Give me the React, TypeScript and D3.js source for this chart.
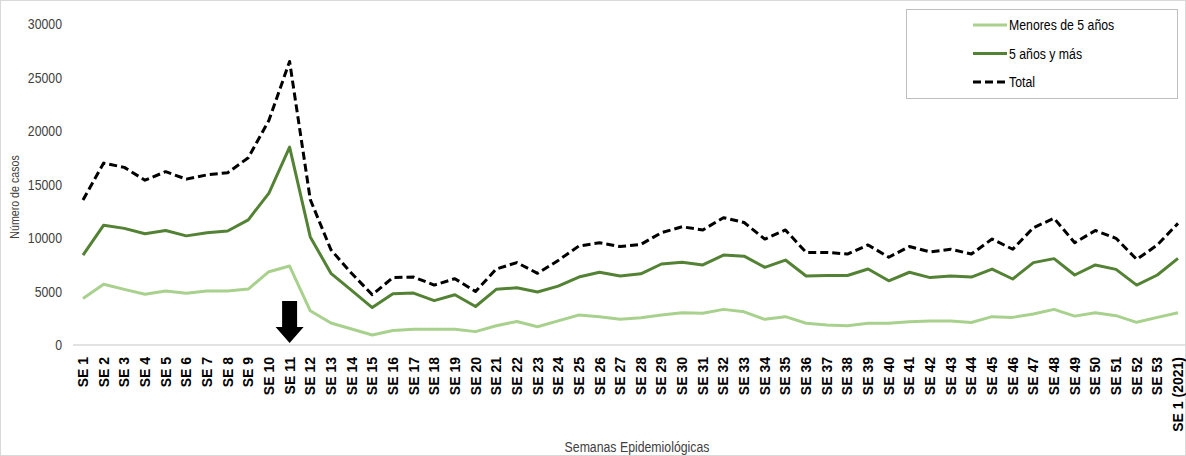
import * as d3 from 'd3';
import { useEffect } from 'react';

// week labels, SE 1 .. SE 53 plus first week of 2021
const weeks: string[] = [...d3.range(1, 54).map((n) => `SE ${n}`), 'SE 1 (2021)'];

// cases, children under 5
const menores: number[] = [
  4350, 5670, 5200, 4750, 5050, 4830, 5050, 5050, 5230, 6850, 7380, 3200, 2050, 1500, 930,
  1350, 1480, 1480, 1480, 1250, 1800, 2200, 1700, 2250, 2800, 2650, 2400, 2550, 2800, 3020,
  2960, 3330, 3100, 2400, 2650, 2030, 1870, 1800, 2030, 2030, 2180, 2240, 2240, 2100, 2650,
  2580, 2900, 3330, 2700, 3020, 2740, 2120, 2580, 3020,
];

// cases, 5 years and older
const mayores: number[] = [
  8400, 11200, 10900, 10400, 10700, 10200, 10500, 10650, 11700, 14200, 18500, 10100, 6700,
  5100, 3500, 4800, 4850, 4150, 4700, 3600, 5200, 5350, 4950, 5500, 6350, 6800, 6450, 6650,
  7570, 7730, 7480, 8400, 8300, 7260, 7940, 6450, 6500, 6500, 7100, 6000, 6800, 6300, 6450,
  6350, 7100, 6170, 7700, 8070, 6540, 7480, 7070, 5600, 6540, 8100,
];

// total cases
const total: number[] = [
  13550, 17000, 16600, 15400, 16200, 15500, 15900, 16100, 17500, 21000, 26500, 13600, 8900,
  6700, 4700, 6300, 6350, 5600, 6200, 5000, 7100, 7700, 6700, 7900, 9250, 9550, 9200, 9400,
  10500, 11050, 10750, 11900, 11450, 9900, 10750, 8650, 8650, 8500, 9350, 8200, 9200, 8700,
  8950, 8500, 9900, 8950, 10960, 11840, 9560, 10700, 9970, 8000, 9350, 11370,
];

const yTicks: number[] = [0, 5000, 10000, 15000, 20000, 25000, 30000];

const series = [
  { name: 'Menores de 5 años', values: menores, color: '#a9d18e', dash: undefined },
  { name: '5 años y más', values: mayores, color: '#548235', dash: undefined },
  { name: 'Total', values: total, color: '#000000', dash: '8,4' },
];

const arial = '"Liberation Sans", Arial, sans-serif';
// no narrow font installed, so squeeze Liberation Sans horizontally
const squeeze = 0.82;

function NarrowText({ x, y, rotate = 0, anchor = 'start', size, fill = '#404040', children }: any) {
  return (
    <g transform={`translate(${x}, ${y}) rotate(${rotate}) scale(${squeeze}, 1)`}>
      <text textAnchor={anchor} dy="0.35em" fontFamily={arial} fontSize={size} fill={fill}>
        {children}
      </text>
    </g>
  );
}

export default function App() {
  useEffect(() => {
    document.body.style.margin = '0';
  }, []);

  const width = 1186;
  const height = 456;

  const x = d3.scalePoint<string>().domain(weeks).range([83, 1178]);
  const y = d3.scaleLinear().domain([0, 30000]).range([345, 24]);

  const line = d3
    .line<number>()
    .x((_, i) => x(weeks[i]) as number)
    .y((d) => y(d));

  // arrow pointing at SE 11
  const ax = x('SE 11') as number;
  const arrow = [
    [ax - 7.5, 301],
    [ax + 7.5, 301],
    [ax + 7.5, 327],
    [ax + 14, 327],
    [ax, 343],
    [ax - 14, 327],
    [ax - 7.5, 327],
  ]
    .map((p) => p.join(','))
    .join(' ');

  return (
    <svg
      width={width}
      height={height}
      style={{ position: 'fixed', left: 0, top: 0, background: '#fff' }}
    >
      <rect x={0.5} y={0.5} width={width - 1} height={height - 1} fill="#fff" stroke="#d9d9d9" />

      {/* y axis labels */}
      {yTicks.map((t) => (
        <NarrowText key={t} x={62} y={y(t)} anchor="end" size={15}>
          {t}
        </NarrowText>
      ))}
      <NarrowText x={14} y={197} rotate={-90} anchor="middle" size={13}>
        Número de casos
      </NarrowText>

      {/* x axis */}
      <line x1={73} x2={width} y1={y(0)} y2={y(0)} stroke="#d9d9d9" strokeWidth={1.5} />
      {weeks.map((w) => (
        <text
          key={w}
          transform={`translate(${(x(w) as number) + 5}, 357) rotate(-90)`}
          textAnchor="end"
          fontFamily={arial}
          fontWeight="bold"
          fontSize={14}
          fill="#000"
        >
          {w}
        </text>
      ))}
      <NarrowText x={637} y={447} anchor="middle" size={15}>
        Semanas  Epidemiológicas
      </NarrowText>

      {/* lines */}
      {series.map((s) => (
        <path
          key={s.name}
          d={line(s.values) ?? ''}
          fill="none"
          stroke={s.color}
          strokeWidth={3}
          strokeDasharray={s.dash}
          strokeLinejoin="round"
        />
      ))}

      <polygon points={arrow} fill="#000" />

      {/* legend */}
      <g>
        <rect x={906.5} y={9.5} width={271} height={89} fill="#fff" stroke="#bfbfbf" />
        {series.map((s, i) => (
          <g key={s.name} transform={`translate(973, ${25 + i * 28.5})`}>
            <line x1={0} x2={34} y1={0} y2={0} stroke={s.color} strokeWidth={3} strokeDasharray={s.dash} />
            <NarrowText x={36} y={0} size={15} fill="#000">
              {s.name}
            </NarrowText>
          </g>
        ))}
      </g>
    </svg>
  );
}
